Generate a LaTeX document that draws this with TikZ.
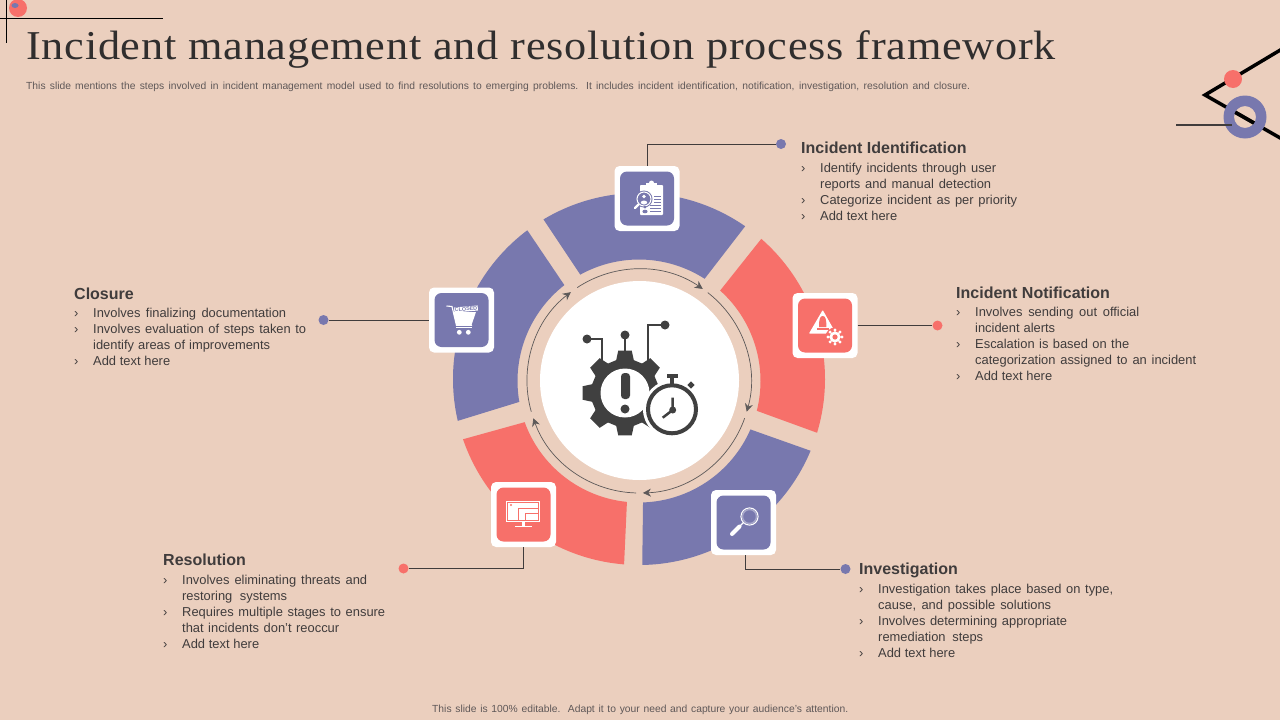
\documentclass[tikz,border=0pt]{standalone}
\usepackage{fontspec}
\setmainfont{Liberation Sans}
\newfontfamily\titlefont[LetterSpace=1.85,FakeStretch=1.08]{Liberation Serif}
\usetikzlibrary{arrows.meta,calc}
\definecolor{bgc}{RGB}{235,207,190}
\definecolor{bluec}{RGB}{120,120,174}
\definecolor{redc}{RGB}{247,112,106}
\definecolor{inkc}{RGB}{64,60,60}
\definecolor{titlec}{RGB}{48,46,46}
\definecolor{iconc}{RGB}{64,64,64}
\definecolor{greyc}{RGB}{95,88,88}
\newcommand{\seg}[5]{\fill[#5] ([shift={(#1:186pt)}]ringc) arc[start angle=#1,end angle=#2,radius=186pt] -- ([shift={(#3:121.5pt)}]arrc) arc[start angle=#3,end angle=#4,radius=121.5pt] -- cycle;}
\newcommand{\bl}[2]{\makebox[19pt][l]{›}\makebox[#1pt][s]{#2}}
\newcommand{\cl}[2]{\hspace*{19pt}\makebox[#1pt][s]{#2}}
\newcommand{\rarrow}[2]{\draw[flowarc] ([shift={(#1:112pt)}]arrc) arc[start angle=#1,end angle=#2,radius=112pt];}
\tikzset{
 frame/.style={fill=white,draw=none,minimum size=65pt,inner sep=0,rounded corners=5pt},
 tile/.style={fill=#1,draw=none,minimum size=54pt,inner sep=0,rounded corners=7pt},
 dot/.style={circle,fill=#1,draw=none,minimum size=10pt,inner sep=0},
 lead/.style={draw=inkc,line width=0.9pt},
 flowarc/.style={draw=inkc!85,line width=0.7pt,-{Stealth[length=8pt,width=8pt]}},
 head/.style={anchor=base west,inner sep=0,text=inkc,font=\fontsize{16}{20}\selectfont\bfseries},
 body/.style={anchor=north west,inner sep=0,align=left,text=inkc,font=\fontsize{12.9}{16}\selectfont},
 small/.style={anchor=west,inner sep=0,text=greyc,font=\fontsize{10.3}{12}\selectfont},
}
\begin{document}
\begin{tikzpicture}[x=1pt,y=-1pt]
\useasboundingbox (0,0) rectangle (1280,720);
\fill[bgc] (0,0) rectangle (1280,720);
% corner decoration
\begin{scope}
\clip (0,0) rectangle (40,30);
\fill[redc] (18,8) circle (9pt);
\fill[bluec] (15,5.5) ellipse (3.5pt and 2.5pt);
\end{scope}
\draw[black,line width=1pt] (0,18) -- (163,18);
\draw[black,line width=1pt] (6,0) -- (6,43);
\draw[black,line width=3.5pt,miter limit=10] (1282,49) -- (1205,95) -- (1282,139);
\fill[redc] (1233,79) circle (9pt);
\fill[bluec,even odd rule] (1245,117) circle (21.5pt) (1245,117) circle (11pt);
\begin{scope}
\clip (1245,117) circle (11pt);
\draw[black,line width=3.5pt] (1205,95) -- (1282,139);
\end{scope}
\draw[inkc,line width=1.3pt] (1176,125) -- (1232,125);
% title
\node[anchor=base west,inner sep=0,text=titlec,font=\fontsize{41}{44}\selectfont\titlefont] (title) at (26,59.5) {Incident management and resolution process framework};
\node[small] (sub) at (26,86.5) {\makebox[944pt][s]{This slide mentions the steps involved in incident management model used to find resolutions to emerging problems. It includes incident identification, notification, investigation, resolution and closure.}};
\node[small] (foot) at (432,709.5) {\makebox[416pt][s]{This slide is 100\% editable.\ \ Adapt it to your need and capture your audience's attention.}};
% ring
\coordinate (ringc) at (639,379);
\coordinate (arrc) at (639,381);
\seg{120.9}{55.2}{57.3}{118.9}{bluec}
\seg{48.9}{-16.8}{-14.2}{48.1}{redc}
\seg{-22.7}{-89}{-88.1}{-23.5}{bluec}
\seg{-94.6}{-161.1}{-160.2}{-95.7}{redc}
\seg{-167}{-233.1}{-232.1}{-170.1}{bluec}
\rarrow{123.5}{55.3}
\rarrow{52.1}{-15.9}
\rarrow{-19.4}{-88}
\rarrow{-91.5}{-160.6}
\rarrow{-164.1}{-232.5}
\node[circle,fill=white,draw=none,minimum size=199pt,inner sep=0] (hub) at (639.5,380.5) {};
% hub icon: gear
\fill[iconc] ([shift={(75:34pt)}]625,393)
 \foreach \a in {0,45,...,315} { -- ([shift={(\a+90-15:34pt)}]625,393) -- ([shift={(\a+90-9:43pt)}]625,393) -- ([shift={(\a+90+9:43pt)}]625,393) -- ([shift={(\a+90+15:34pt)}]625,393)} -- cycle;
\fill[white] (625,393) circle (24.5pt);
\fill[iconc,rounded corners=3.5pt] (621,373) rectangle (630,399);
\fill[iconc] (625,409) circle (4.5pt);
\draw[iconc,line width=2.2pt] (587,339) -- (602,339) -- (602,362);
\draw[iconc,line width=2.2pt] (625,335) -- (625,353);
\draw[iconc,line width=2.2pt] (665,325) -- (648,325) -- (648,362);
\fill[iconc] (587,339) circle (4.5pt) (625,335) circle (4.5pt) (665,325) circle (4.5pt);
\fill[white] (672,409.3) circle (29pt);
\draw[iconc,line width=4pt] (672,409.3) circle (24pt);
\fill[iconc] (666.5,374) rectangle (677.5,378);
\fill[iconc] (670,377) rectangle (674,385);
\fill[iconc,rotate around={45:(691,385)}] (688.5,382.5) rectangle (693.5,387.5);
\draw[iconc,line width=2.5pt] (672.7,397.5) -- (672.7,410) -- (662.7,417.7);
\fill[iconc] (672.7,410) circle (3.5pt);
% tiles
\node[frame] (n1) at (647,198.5) {};
\node[tile=bluec] at (n1) {};
\node[frame] (n2) at (825,325.5) {};
\node[tile=redc] at (n2) {};
\node[frame] (n3) at (743.5,522.5) {};
\node[tile=bluec] at (n3) {};
\node[frame] (n4) at (523.5,514.5) {};
\node[tile=redc] at (n4) {};
\node[frame] (n5) at (461.5,320) {};
\node[tile=bluec] at (n5) {};
% icon 1: clipboard + magnifier
\fill[white,rounded corners=0.8pt] (640,185) rectangle (663,215);
\fill[white] (646,182.5) rectangle (657,186);
\fill[white] (651.5,183) circle (2.5pt);
\fill[bluec] (644,199) circle (8.5pt);
\draw[white,line width=1pt] (644,199) circle (7pt);
\fill[white] (644,196.5) circle (1.8pt) (644,202.5) ellipse (3.2pt and 2pt);
\draw[white,line width=2.4pt,line cap=round] (638.5,204.5) -- (635,208);
\draw[bluec,line width=0.6pt] (654,196) -- (661,196) (654,199) -- (661,199) (654,202) -- (661,202);
\draw[bluec,line width=0.6pt] (650,208) -- (661,208) (650,211) -- (661,211) (650,205) -- (661,205);
\fill[bluec] (645,207) circle (1.6pt) (645,211.5) ellipse (2.6pt and 1.8pt);
% icon 2: alert + gear
\fill[white,rounded corners=0.6pt] (822.7,310) -- (836,333.5) -- (809,333.5) -- cycle;
\fill[redc] (819,327) .. controls (819,319) and (820,316) .. (822.7,316) .. controls (825.4,316) and (826.4,319) .. (826.4,327) -- cycle;
\fill[redc] (817,327.5) rectangle (828.5,329.5);
\fill[redc] (835,337) circle (9.5pt);
\fill[white] \foreach \a in {0,45,...,315} { ([shift={(\a:7pt)}]835,337) circle (1.6pt)} (835,337) circle (5.6pt);
\fill[redc] (835,337) circle (2.6pt);
% icon 3: magnifier
\draw[white!35!bluec,line width=1.4pt] (749.5,516.5) circle (7pt);
\draw[white,line width=1pt] (749.5,516.5) circle (8.6pt);
\draw[white,line width=1.2pt] (743.5,522.5) -- (739.5,526.5);
\draw[white,line width=4pt,line cap=round] (739.5,526.5) -- (732,534);
% icon 4: monitor
\fill[white] (506,501) rectangle (540,522);
\draw[redc,line width=0.6pt] (507.5,502.5) rectangle (538.5,520.5);
\draw[redc,line width=0.6pt] (518,520.5) -- (518,508) -- (538.5,508);
\draw[redc,line width=0.6pt] (525,520.5) -- (525,513) -- (538.5,513);
\fill[redc] (511,505) circle (1.2pt);
\fill[white] (521.5,522) rectangle (524.5,526);
\fill[white] (515,525.5) rectangle (532,527);
% icon 5: cart
\draw[white,line width=1.1pt] (446.5,306) -- (452,306.5) -- (456.5,325.5) -- (472,325.5);
\fill[white] (453,312) -- (476,312) -- (471.5,325) -- (456.5,325) -- cycle;
\draw[bluec,line width=0.6pt] (456,326) -- (472,326);
\draw[white,line width=1pt] (456,327) -- (472,327);
\fill[white] (459.3,332.3) circle (2.4pt) (468.3,332.3) circle (2.4pt);
\node[rotate=5,fill=white,draw=none,inner sep=0.6pt,text=bluec,font=\fontsize{5.4}{6}\selectfont\bfseries] (closedtag) at (466,309) {CLOSED};
% dots and leaders
\node[dot=bluec] (d1) at (781,144) {};
\node[dot=redc] (d2) at (937.5,325.5) {};
\node[dot=bluec] (d3) at (845.5,569) {};
\node[dot=redc] (d4) at (403.5,568.5) {};
\node[dot=bluec] (d5) at (323.5,320) {};
\draw[lead] (n1.north) -- (647,144) -- (d1);
\draw[lead] (n2.east) -- (d2);
\draw[lead] (745,555) -- (745,569) -- (d3);
\draw[lead] (n4.south) -- (523.5,568.5) -- (d4);
\draw[lead] (n5.west) -- (d5);
% texts
\node[head] (h1) at (801,153) {Incident Identification};
\node[body] (b1) at (801,163) {\bl{176}{Identify incidents through user}\\\cl{171}{reports and manual detection}\\\bl{197}{Categorize incident as per priority}\\\bl{77}{Add text here}};
\node[head] (h2) at (956,298) {Incident Notification};
\node[body] (b2) at (956,307) {\bl{164}{Involves sending out official}\\\cl{80}{incident alerts}\\\bl{154}{Escalation is based on the}\\\cl{221}{categorization assigned to an incident}\\\bl{77}{Add text here}};
\node[head] (h3) at (859,574) {Investigation};
\node[body] (b3) at (859,584) {\bl{235}{Investigation takes place based on type,}\\\cl{173}{cause, and possible solutions}\\\bl{189}{Involves determining appropriate}\\\cl{105}{remediation steps}\\\bl{77}{Add text here}};
\node[head] (h4) at (163,565) {Resolution};
\node[body] (b4) at (163,575) {\bl{185}{Involves eliminating threats and}\\\cl{105}{restoring systems}\\\bl{203}{Requires multiple stages to ensure}\\\cl{157}{that incidents don't reoccur}\\\bl{77}{Add text here}};
\node[head] (h5) at (74,299) {Closure};
\node[body] (b5) at (74,308) {\bl{193}{Involves finalizing documentation}\\\bl{213}{Involves evaluation of steps taken to}\\\cl{177}{identify areas of improvements}\\\bl{77}{Add text here}};
\end{tikzpicture}
\end{document}
